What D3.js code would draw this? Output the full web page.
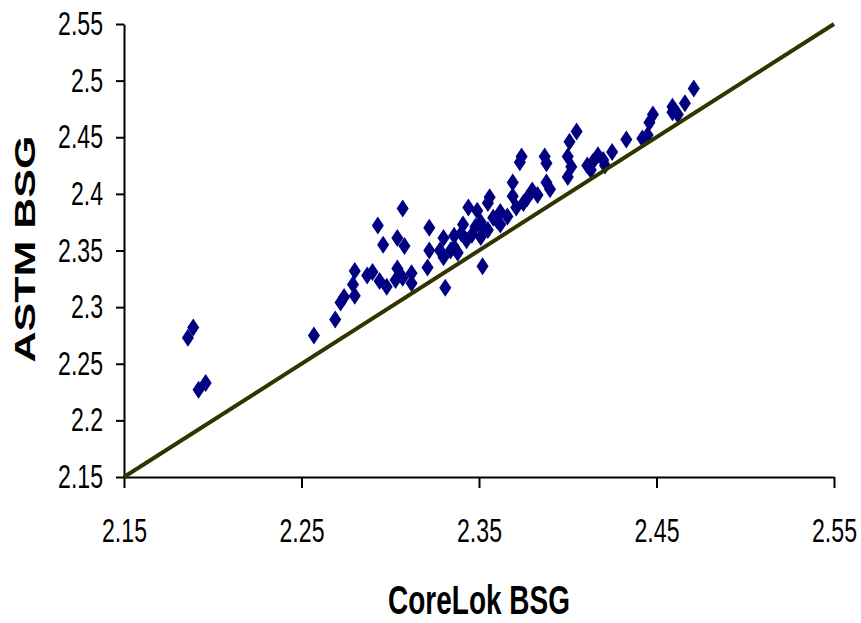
<!DOCTYPE html>
<html>
<head>
<meta charset="utf-8">
<title>ASTM vs CoreLok BSG</title>
<style>
  body, html { margin: 0; padding: 0; background: #fff; }
</style>
</head>
<body>
<svg id="svg" width="861" height="623"></svg>

<script src="https://cdn.jsdelivr.net/npm/d3@7"></script>
<script>
  // CoreLok BSG (x) and ASTM BSG (y)
  const coreLok = [
    2.189, 2.186, 2.196, 2.192, 2.257, 2.269, 2.272, 2.274, 2.279, 2.280,
    2.280, 2.287, 2.290, 2.293, 2.296, 2.294, 2.298, 2.304, 2.304, 2.307,
    2.308, 2.307, 2.312, 2.312, 2.303, 2.322, 2.322, 2.321, 2.330, 2.330,
    2.331, 2.334, 2.336, 2.336, 2.338, 2.340, 2.343, 2.346, 2.348, 2.351,
    2.351, 2.352, 2.355, 2.352, 2.358, 2.360, 2.362, 2.344, 2.349, 2.355,
    2.356, 2.362, 2.366, 2.369, 2.369, 2.371, 2.374, 2.375, 2.377, 2.380,
    2.383, 2.387, 2.388, 2.390, 2.341, 2.400, 2.402, 2.400, 2.401, 2.405,
    2.411, 2.413, 2.414, 2.417, 2.420, 2.421, 2.425, 2.433, 2.442, 2.445,
    2.446, 2.448, 2.459, 2.459, 2.462, 2.466, 2.471, 2.328, 2.373, 2.388
  ]
  const astm = [
    2.282, 2.273, 2.233, 2.227, 2.275, 2.289, 2.304, 2.309, 2.320, 2.310,
    2.332, 2.328, 2.331, 2.372, 2.355, 2.323, 2.318, 2.334, 2.361, 2.387,
    2.354, 2.326, 2.330, 2.321, 2.324, 2.370, 2.350, 2.335, 2.361, 2.344,
    2.317, 2.350, 2.363, 2.353, 2.348, 2.365, 2.359, 2.364, 2.371, 2.375,
    2.362, 2.370, 2.368, 2.336, 2.379, 2.377, 2.373, 2.388, 2.385, 2.392,
    2.397, 2.384, 2.380, 2.410, 2.398, 2.388, 2.433, 2.392, 2.396, 2.403,
    2.399, 2.433, 2.410, 2.404, 2.373, 2.433, 2.424, 2.415, 2.446, 2.455,
    2.425, 2.421, 2.428, 2.434, 2.430, 2.425, 2.437, 2.448, 2.449, 2.452,
    2.463, 2.470, 2.472, 2.477, 2.470, 2.480, 2.493, 2.350, 2.428, 2.427
  ]
  const equalityLine = [2.15, 2.55]

  const xTicks = [2.15, 2.25, 2.35, 2.45, 2.55]
  const xTickLabels = ['2.15', '2.25', '2.35', '2.45', '2.55']
  const yTicks = [2.15, 2.2, 2.25, 2.3, 2.35, 2.4, 2.45, 2.5, 2.55]
  const yTickLabels = ['2.15', '2.2', '2.25', '2.3', '2.35', '2.4', '2.45', '2.5', '2.55']

  const svg = d3.select('#svg')
  const squeeze = 0.7 // the whole picture is narrowed horizontally
  const font = '"Liberation Sans", Arial, sans-serif'

  const xScale = d3.scaleLinear().domain([2.15, 2.55]).range([124, 834])
  const yScale = d3.scaleLinear().domain([2.15, 2.55]).range([477, 24])

  // diamond marker, narrower than tall
  const diamond = {
    draw(ctx, size) {
      const h = Math.sqrt(size) / 2
      const w = h * 0.67
      ctx.moveTo(0, -h)
      ctx.lineTo(w, 0)
      ctx.lineTo(0, h)
      ctx.lineTo(-w, 0)
      ctx.closePath()
    }
  }

  // axes
  const yAxis = d3.axisLeft(yScale)
    .tickValues(yTicks)
    .tickFormat((d, i) => yTickLabels[i])
    .tickSizeInner(8)
    .tickSizeOuter(0)
    .tickPadding(13)
  const gy = svg.append('g')
    .attr('transform', 'translate(124,0)')
    .call(yAxis)
  gy.selectAll('text')
    .attr('x', -21 / squeeze)
    .attr('transform', `scale(${squeeze},1)`)

  const xAxis = d3.axisBottom(xScale)
    .tickValues(xTicks)
    .tickFormat((d, i) => xTickLabels[i])
    .tickSizeInner(11)
    .tickSizeOuter(0)
    .tickPadding(31)
  const gx = svg.append('g')
    .attr('transform', 'translate(0,477)')
    .call(xAxis)
  gx.selectAll('text')
    .attr('transform', `scale(${squeeze},1)`)

  svg.selectAll('g').filter(function () { return this.parentNode === svg.node() })
    .attr('font-family', font)
    .attr('font-size', 33)
    .attr('fill', '#000')
  svg.selectAll('.domain, .tick line')
    .attr('stroke', '#000')
    .attr('stroke-width', 2)

  // points
  const points = coreLok.map((x, i) => ({ x: x, y: astm[i] }))
  svg.append('g')
    .selectAll('path')
    .data(points)
    .join('path')
    .attr('transform', d => `translate(${xScale(d.x)},${yScale(d.y)})`)
    .attr('d', d3.symbol().type(diamond).size(324))
    .attr('fill', '#000080')

  // line of equality
  const linegen = d3.line()
    .x(d => xScale(d))
    .y(d => yScale(d))
  svg.append('path')
    .attr('d', linegen(equalityLine))
    .attr('stroke', '#333300')
    .attr('stroke-width', 4)
    .attr('fill', 'none')

  // axis titles
  svg.append('text')
    .attr('transform', `translate(479,614) scale(${squeeze},1)`)
    .attr('text-anchor', 'middle')
    .attr('font-family', font)
    .attr('font-weight', 'bold')
    .attr('font-size', 40)
    .text('CoreLok BSG')

  svg.append('text')
    .attr('transform', `translate(35,249) scale(${squeeze},1) rotate(-90)`)
    .attr('text-anchor', 'middle')
    .attr('font-family', font)
    .attr('font-weight', 'bold')
    .attr('font-size', 43)
    .text('ASTM BSG')
</script>
</body>
</html>
